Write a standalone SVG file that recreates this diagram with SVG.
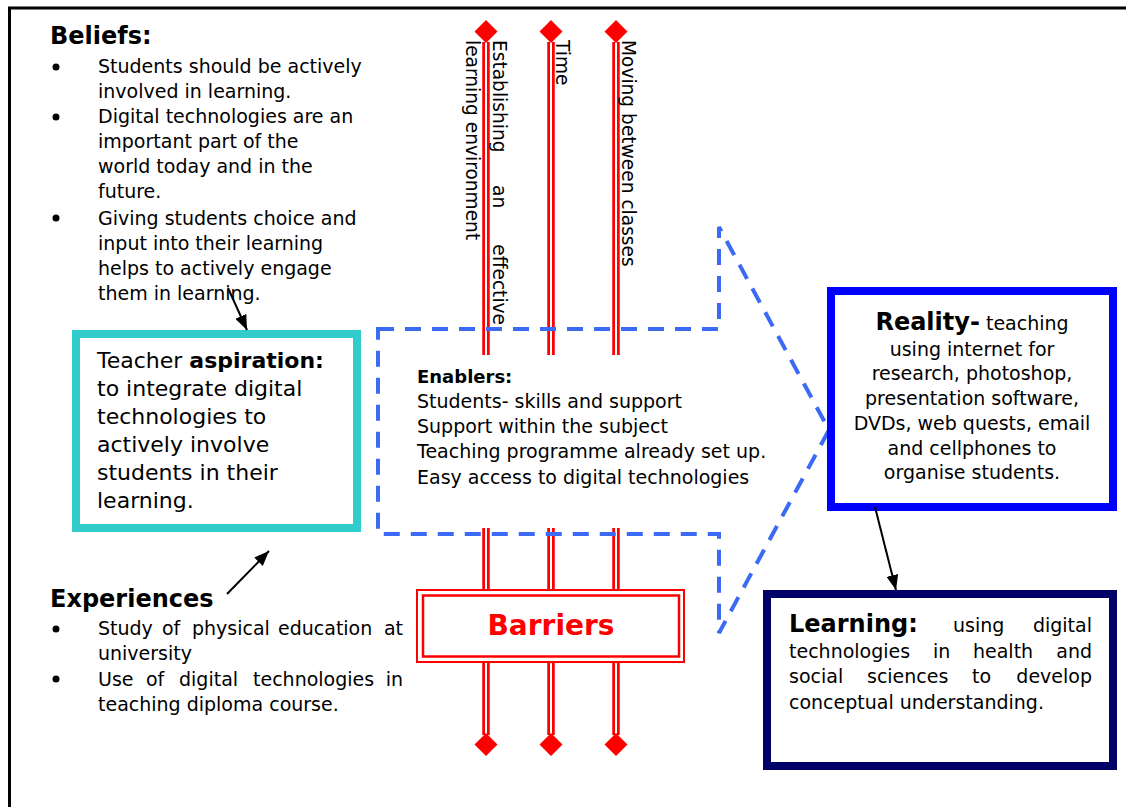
<svg xmlns="http://www.w3.org/2000/svg" width="1126" height="807" viewBox="0 0 1126 807">
<style>
text{font-family:"DejaVu Sans","Liberation Sans",sans-serif;fill:#000;}
.t19{font-size:19px;}
.t22{font-size:22px;}
.h24{font-size:24px;font-weight:bold;}
.b{font-weight:bold;}
.vt{font-size:18.6px;}
.red-o{stroke:#ff0000;stroke-width:7.5;fill:none;}
.red-i{stroke:#ffffff;stroke-width:2;fill:none;}
.dia{fill:#ff0000;}
.conn{stroke:#000;stroke-width:2;fill:none;marker-end:url(#ah);}
.dash{stroke:#3b6af5;stroke-width:4;fill:none;stroke-dasharray:16 11;}
</style>
<defs>
<marker id="ah" viewBox="0 0 15 12" refX="15" refY="6" markerWidth="15" markerHeight="12" markerUnits="userSpaceOnUse" orient="auto">
<path d="M0,0 L15,6 L0,12 z" fill="#000"/>
</marker>
</defs>
<rect width="1126" height="807" fill="#ffffff"/>
<path d="M9.5,807 V8 H1126" stroke="#000" stroke-width="3" fill="none"/>

<g id="barrier-lines">
<path class="red-o" d="M486,42 V355 M551,42 V355 M616,42 V355 M486,528 V592 M551,528 V592 M616,528 V592 M486,660 V735 M551,660 V735 M616,660 V735"/>
<path class="red-i" d="M486,42 V355 M551,42 V355 M616,42 V355 M486,528 V592 M551,528 V592 M616,528 V592 M486,660 V735 M551,660 V735 M616,660 V735"/>
<path class="dia" d="M486,20 l11.5,11.5 l-11.5,11.5 l-11.5,-11.5 z M551,20 l11.5,11.5 l-11.5,11.5 l-11.5,-11.5 z M616,20 l11.5,11.5 l-11.5,11.5 l-11.5,-11.5 z"/>
<path class="dia" d="M486,733 l11.5,11.5 l-11.5,11.5 l-11.5,-11.5 z M551,733 l11.5,11.5 l-11.5,11.5 l-11.5,-11.5 z M616,733 l11.5,11.5 l-11.5,11.5 l-11.5,-11.5 z"/>
</g>

<g id="beliefs">
<text class="h24" x="50" y="44">Beliefs:</text>
<circle cx="56" cy="67" r="3.5"/>
<circle cx="56" cy="117" r="3.5"/>
<circle cx="56" cy="218" r="3.5"/>
<text class="t19"><tspan x="98" y="73">Students should be actively</tspan><tspan x="98" y="98">involved in learning.</tspan><tspan x="98" y="123">Digital technologies are an</tspan><tspan x="98" y="148">important part of the</tspan><tspan x="98" y="173">world today and in the</tspan><tspan x="98" y="198">future.</tspan><tspan x="98" y="225">Giving students choice and</tspan><tspan x="98" y="250">input into their learning</tspan><tspan x="98" y="275">helps to actively engage</tspan><tspan x="98" y="300">them in learning.</tspan></text>
</g>

<g id="aspiration">
<rect x="76" y="334" width="281" height="194" fill="#fff" stroke="#33cccc" stroke-width="8"/>
<text class="t22"><tspan x="97" y="368">Teacher <tspan class="b">aspiration:</tspan></tspan><tspan x="97" y="396">to integrate digital</tspan><tspan x="97" y="424">technologies to</tspan><tspan x="97" y="452">actively involve</tspan><tspan x="97" y="480">students in their</tspan><tspan x="97" y="508">learning.</tspan></text>
</g>

<g id="experiences">
<text class="h24" x="50" y="607">Experiences</text>
<circle cx="56" cy="629" r="3.5"/>
<circle cx="56" cy="679" r="3.5"/>
<text class="t19"><tspan x="98" y="635">Study</tspan><tspan x="162" y="635">of</tspan><tspan x="192" y="635">physical</tspan><tspan x="278" y="635">education</tspan><tspan x="403" y="635" text-anchor="end">at</tspan></text>
<text class="t19" x="98" y="660">university</text>
<text class="t19"><tspan x="98" y="686">Use</tspan><tspan x="146" y="686">of</tspan><tspan x="179" y="686">digital</tspan><tspan x="253" y="686">technologies</tspan><tspan x="403" y="686" text-anchor="end">in</tspan></text>
<text class="t19" x="98" y="711">teaching diploma course.</text>
</g>

<g id="enablers">
<path class="dash" d="M378,329 H719 V227 L829,430 L719,633 V534 H378 Z"/>
<text class="t19"><tspan x="417" y="383" class="b" style="font-size:18px">Enablers:</tspan><tspan x="417" y="408">Students- skills and support</tspan><tspan x="417" y="433">Support within the subject</tspan><tspan x="417" y="458">Teaching programme already set up.</tspan><tspan x="417" y="484">Easy access to digital technologies</tspan></text>
</g>

<g id="vertical-labels">
<text class="vt" transform="translate(493,40) rotate(90)"><tspan x="0" y="0">Establishing</tspan><tspan x="145" y="0">an</tspan><tspan x="285" y="0" text-anchor="end">effective</tspan></text>
<text class="vt" transform="translate(466,40) rotate(90)" x="0" y="0">learning environment</text>
<text class="vt" transform="translate(555.5,40) rotate(90)" x="0" y="0">Time</text>
<text class="vt" transform="translate(622,40) rotate(90)" x="0" y="0">Moving between classes</text>
</g>

<g id="barriers">
<rect x="417" y="590" width="267" height="72" fill="#fff" stroke="#ff0000" stroke-width="2"/>
<rect x="423" y="595.5" width="256" height="61" fill="none" stroke="#ff0000" stroke-width="2.5"/>
<text x="551" y="635" text-anchor="middle" style="font-size:28px;font-weight:bold;fill:#ff0000">Barriers</text>
</g>

<g id="reality">
<rect x="831" y="291" width="282" height="216" fill="#fff" stroke="#0000ff" stroke-width="8"/>
<text class="t19" text-anchor="middle"><tspan x="972" y="330"><tspan class="b" style="font-size:24px">Reality-</tspan> teaching</tspan><tspan x="972" y="356">using internet for</tspan><tspan x="972" y="380">research, photoshop,</tspan><tspan x="972" y="405">presentation software,</tspan><tspan x="972" y="430">DVDs, web quests, email</tspan><tspan x="972" y="455">and cellphones to</tspan><tspan x="972" y="479">organise students.</tspan></text>
</g>

<g id="learning">
<rect x="767" y="594" width="346" height="172" fill="#fff" stroke="#000066" stroke-width="8"/>
<text class="h24" x="789" y="632">Learning:</text>
<text class="t19"><tspan x="953" y="632">using</tspan><tspan x="1092" y="632" text-anchor="end">digital</tspan></text>
<text class="t19"><tspan x="789" y="658">technologies</tspan><tspan x="933" y="658">in</tspan><tspan x="973" y="658">health</tspan><tspan x="1092" y="658" text-anchor="end">and</tspan></text>
<text class="t19"><tspan x="789" y="683">social</tspan><tspan x="867" y="683">sciences</tspan><tspan x="972" y="683">to</tspan><tspan x="1092" y="683" text-anchor="end">develop</tspan></text>
<text class="t19" x="789" y="709">conceptual understanding.</text>
</g>

<g id="connectors">
<line class="conn" x1="228" y1="288" x2="247" y2="330"/>
<line class="conn" x1="227" y1="594" x2="269" y2="551"/>
<line class="conn" x1="875" y1="507" x2="896" y2="590"/>
</g>
</svg>
